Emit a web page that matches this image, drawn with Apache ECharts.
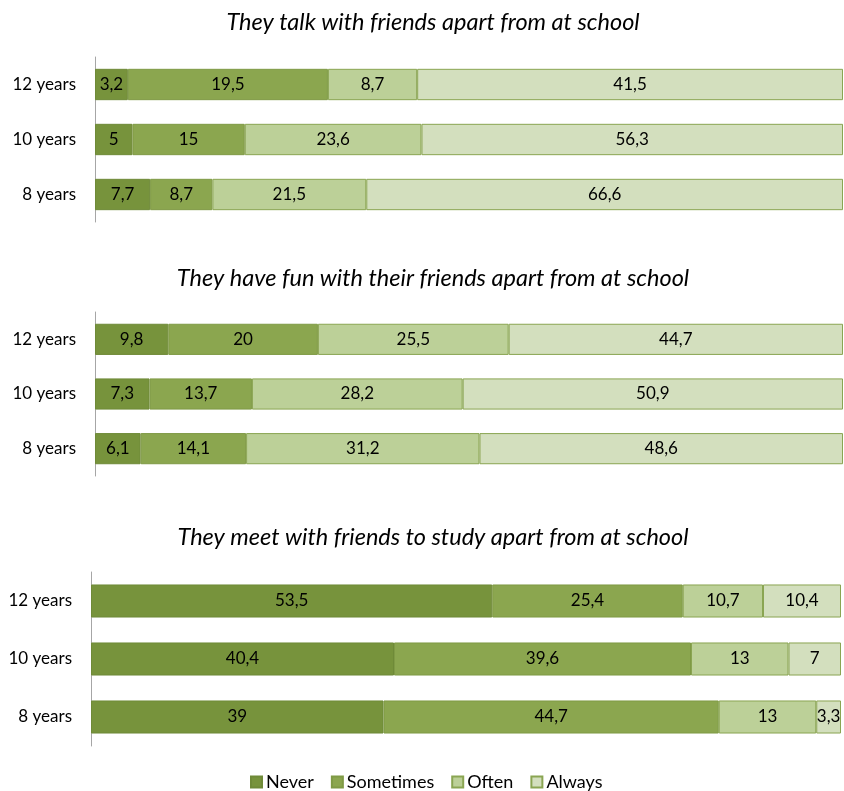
<!DOCTYPE html>
<html><head><meta charset="utf-8">
<script src="https://cdn.jsdelivr.net/npm/echarts@6/dist/echarts.min.js"></script>
<style>html,body{margin:0;padding:0;background:#fff}#c{width:844px;height:791px}</style>
</head><body><div id="c"></div>
<script>
const categories = ['8 years', '10 years', '12 years'];
const seriesNames = ['Never', 'Sometimes', 'Often', 'Always'];
const titles = [
  'They talk with friends apart from at school',
  'They have fun with their friends apart from at school',
  'They meet with friends to study apart from at school'
];
// values per panel, per series, in category order (8, 10, 12 years)
const talkNever = [7.7, 5, 3.2];
const talkSometimes = [8.7, 15, 19.5];
const talkOften = [21.5, 23.6, 8.7];
const talkAlways = [66.6, 56.3, 41.5];
const funNever = [6.1, 7.3, 9.8];
const funSometimes = [14.1, 13.7, 20];
const funOften = [31.2, 28.2, 25.5];
const funAlways = [48.6, 50.9, 44.7];
const studyNever = [39, 40.4, 53.5];
const studySometimes = [44.7, 39.6, 25.4];
const studyOften = [13, 13, 10.7];
const studyAlways = [3.3, 7, 10.4];

const panels = [
  [talkNever, talkSometimes, talkOften, talkAlways],
  [funNever, funSometimes, funOften, funAlways],
  [studyNever, studySometimes, studyOften, studyAlways]
];
const colors = ['#77933c', '#8ba64f', '#bcd098', '#d3dfbe'];
const borders = ['#6f8a38', '#7f9a45', '#8aa552', '#8aa552'];
const FONT = 'Lato';

const grids = [
  {left: 95, top: 57, width: 748, height: 165},
  {left: 95, top: 312, width: 748, height: 164},
  {left: 91, top: 572, width: 750, height: 174}
];
const titleTops = [6, 262, 521];

const option = {
  animation: false,
  textStyle: {fontFamily: FONT},
  title: titles.map((t, i) => ({
    text: t, left: 428, top: titleTops[i], textAlign: 'center',
    textStyle: {fontFamily: FONT, fontStyle: 'italic', fontWeight: 'normal', fontSize: 23.5, color: '#000'}
  })),
  legend: {
    data: seriesNames, top: 768, left: 245, itemWidth: 11, itemHeight: 11, itemGap: 17,
    icon: 'rect',
    textStyle: {fontFamily: FONT, fontSize: 18, color: '#000', padding: [0, 0, 0, -1]}
  },
  grid: grids,
  xAxis: grids.map((g, i) => ({type: 'value', gridIndex: i, min: 0, max: 100, show: false})),
  yAxis: grids.map((g, i) => ({
    type: 'category', gridIndex: i, data: categories,
    axisLine: {show: true, lineStyle: {color: '#a6a6a6', width: 1}},
    axisTick: {show: false},
    axisLabel: {fontFamily: FONT, fontSize: 17, color: '#000', margin: 19}
  })),
  series: []
};

panels.forEach((panel, p) => {
  const sums = categories.map((c, k) => panel.reduce((s, arr) => s + arr[k], 0));
  panel.forEach((vals, s) => {
    option.series.push({
      type: 'bar', name: seriesNames[s], stack: 'p' + p,
      xAxisIndex: p, yAxisIndex: p, barWidth: '57%',
      itemStyle: {color: colors[s], borderColor: borders[s], borderWidth: 1},
      label: {
        show: true, position: 'inside', fontFamily: FONT, fontSize: 17, color: '#000',
        formatter: (prm) => String(vals[prm.dataIndex]).replace('.', ',')
      },
      labelLayout: {hideOverlap: false},
      data: vals.map((v, k) => v / sums[k] * 100)
    });
  });
});

const chart = echarts.init(document.getElementById('c'), null, {renderer: 'canvas'});
chart.setOption(option);
</script>
</body></html>
